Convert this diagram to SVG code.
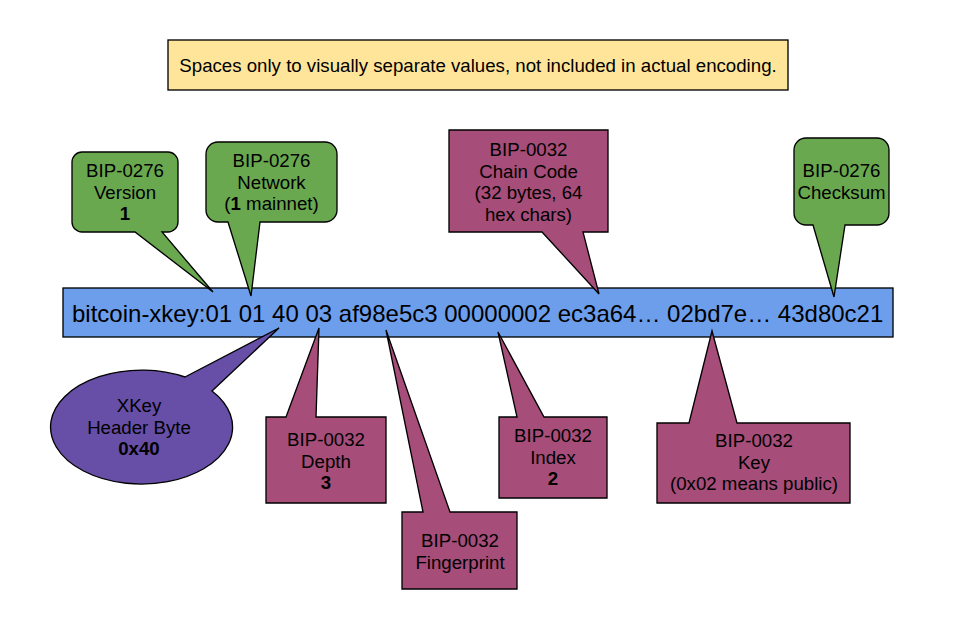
<svg xmlns="http://www.w3.org/2000/svg" width="958" height="634" viewBox="0 0 958 634">
<style>
  text { font-family: "Liberation Sans", Arial, sans-serif; font-size: 18.67px; fill: #000; text-anchor: middle; }
  .shape { stroke: #000; stroke-width: 1.33; stroke-linejoin: miter; }
  .green { fill: #6aa84f; }
  .maroon { fill: #a64d79; }
  .purple { fill: #674ea7; }
  .b { font-weight: bold; }
</style>
<rect width="958" height="634" fill="#ffffff"/>

<g id="note">
  <rect class="shape" x="168" y="40" width="620" height="50" fill="#ffe599"/>
  <text x="478" y="72">Spaces only to visually separate values, not included in actual encoding.</text>
</g>

<g id="encoding-bar">
  <rect class="shape" x="63" y="288" width="830" height="49" fill="#6d9eeb"/>
  <text x="72" y="322" style="font-size:24px;text-anchor:start">bitcoin-xkey:01 01 40 03 af98e5c3 00000002 ec3a64… 02bd7e… 43d80c21</text>
</g>

<g id="version">
  <path class="shape green" d="M82,152 H168 A10,10 0 0 1 178,162 V222 A10,10 0 0 1 168,232 H162 L213,292 L135,232 H82 A10,10 0 0 1 72,222 V162 A10,10 0 0 1 82,152 Z"/>
  <text x="125" y="177">BIP-0276</text>
  <text x="125" y="198.5">Version</text>
  <text x="125" y="220" class="b">1</text>
</g>

<g id="network">
  <path class="shape green" d="M218,142 H325 A12,12 0 0 1 337,154 V210 A12,12 0 0 1 325,222 H260 L251,296 L228,222 H218 A12,12 0 0 1 206,210 V154 A12,12 0 0 1 218,142 Z"/>
  <text x="271.5" y="167">BIP-0276</text>
  <text x="271.5" y="188.5">Network</text>
  <text x="271.5" y="210">(<tspan class="b">1</tspan> mainnet)</text>
</g>

<g id="chain-code">
  <path class="shape maroon" d="M449,130 H608 V232 H583 L599,294 L542,232 H449 Z"/>
  <text x="528.5" y="156">BIP-0032</text>
  <text x="528.5" y="177.5">Chain Code</text>
  <text x="528.5" y="199">(32 bytes, 64</text>
  <text x="528.5" y="220.5">hex chars)</text>
</g>

<g id="checksum">
  <path class="shape green" d="M806,138 H877 A12,12 0 0 1 889,150 V213 A12,12 0 0 1 877,225 H845 L834,297 L813,225 H806 A12,12 0 0 1 794,213 V150 A12,12 0 0 1 806,138 Z"/>
  <text x="841.5" y="177">BIP-0276</text>
  <text x="841.5" y="198.5">Checksum</text>
</g>

<g id="xkey-header">
  <path class="shape purple" d="M185,377 L279,328 L212,391 A91,57 0 1 1 185,377 Z"/>
  <text x="139" y="412">XKey</text>
  <text x="139" y="433.5">Header Byte</text>
  <text x="139" y="455" class="b">0x40</text>
</g>

<g id="depth">
  <path class="shape maroon" d="M266,417 H286 L319,328 L316,417 H386 V503 H266 Z"/>
  <text x="326" y="446">BIP-0032</text>
  <text x="326" y="467.5">Depth</text>
  <text x="326" y="489" class="b">3</text>
</g>

<g id="fingerprint">
  <path class="shape maroon" d="M402,512 H423 L386,330 L450,512 H517 V589 H402 Z"/>
  <text x="460" y="547">BIP-0032</text>
  <text x="460" y="568.5">Fingerprint</text>
</g>

<g id="index">
  <path class="shape maroon" d="M499,417 H517 L498,332 L544,417 H607 V498 H499 Z"/>
  <text x="553" y="442">BIP-0032</text>
  <text x="553" y="463.5">Index</text>
  <text x="553" y="485" class="b">2</text>
</g>

<g id="key">
  <path class="shape maroon" d="M657,423 H689 L712,331 L737,423 H850 V503 H657 Z"/>
  <text x="754" y="447">BIP-0032</text>
  <text x="754" y="468.5">Key</text>
  <text x="754" y="490">(0x02 means public)</text>
</g>
</svg>
